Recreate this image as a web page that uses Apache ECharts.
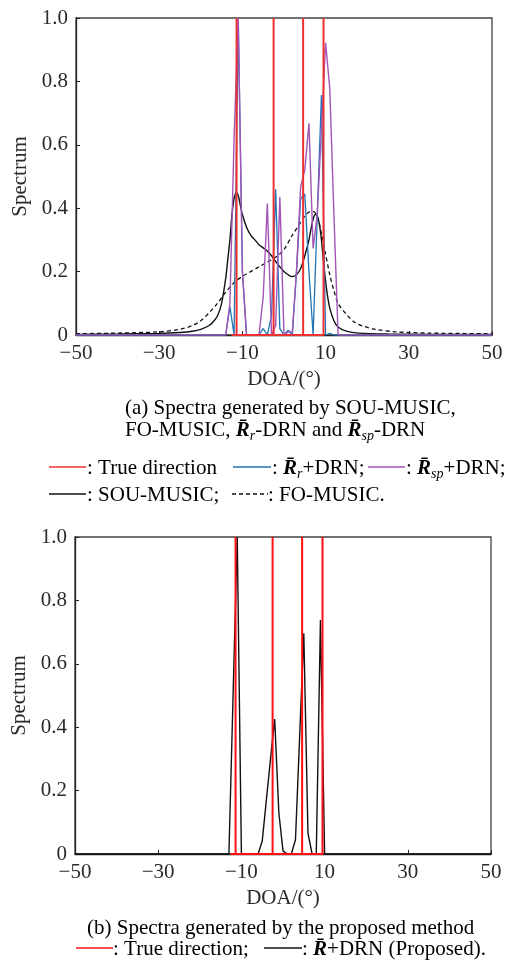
<!DOCTYPE html>
<html>
<head>
<meta charset="utf-8">
<script src="https://cdn.jsdelivr.net/npm/echarts@6/dist/echarts.min.js"></script>
<style>
  html, body { margin: 0; padding: 0; background: #fff; }
  #chart { width: 526px; height: 969px; }
</style>
</head>
<body>
<div id="chart"></div>
<script>
// true source directions (deg)
var trueDirs = [-11.4, -2.5, 4.6, 9.5];

// DRN output grid (deg); outside -15..13 the spectra are zero
var drnDoa = [-50, -15, -14, -13, -12, -11, -10, -9, -8, -7, -6, -5, -4, -3, -2, -1, 0,
              1, 2, 3, 4, 5, 6, 7, 8, 9, 10, 11, 12, 13, 50];
// R_r + DRN (blue)
var rrDrn = [0, 0, 0, 0.09, 0, 1.0, 0.2, 0, 0, 0, 0, 0.02, 0, 0.06, 0.46, 0.02, 0,
             0.015, 0, 0.2, 0.43, 0.445, 0.2, 0, 0.38, 0.757, 0, 0.005, 0, 0, 0];
// R_sp + DRN (purple)
var rspDrn = [0, 0, 0, 0.1, 0.62, 1.0, 0.2, 0, 0, 0, 0, 0.12, 0.415, 0, 0.03, 0.435, 0,
              0.01, 0.01, 0.2, 0.468, 0.52, 0.668, 0.273, 0.38, 0.65, 0.922, 0.778, 0.38, 0, 0];
// R + DRN (proposed, bottom panel)
var propDrn = [0, 0, 0, 0, 0.5, 1.0, 0, 0, 0, 0, 0, 0.04, 0.17, 0.3, 0.426, 0.13, 0.01,
               0, 0, 0.045, 0.37, 0.696, 0.066, 0, 0, 0.738, 0, 0, 0, 0, 0];

// SOU-MUSIC
var souDoa = [-50, -40, -30, -25, -22, -20, -18, -17, -16, -15, -14, -13.5, -13, -12.5, -12,
              -11.5, -11, -10.5, -10, -9, -8, -7, -6, -5, -4, -3, -2, -1, 0, 1, 2, 3, 4, 5, 6,
              6.5, 7, 7.5, 8, 8.5, 9, 9.5, 10, 10.5, 11, 12, 13, 15, 18, 25, 35, 50];
var souVal = [0.002, 0.003, 0.005, 0.008, 0.012, 0.018, 0.03, 0.042, 0.06, 0.1, 0.18, 0.24, 0.3,
              0.38, 0.43, 0.45, 0.44, 0.41, 0.38, 0.34, 0.315, 0.3, 0.285, 0.275, 0.265, 0.25,
              0.232, 0.215, 0.2, 0.19, 0.184, 0.19, 0.21, 0.25, 0.3, 0.335, 0.365, 0.38, 0.375,
              0.35, 0.3, 0.23, 0.17, 0.12, 0.085, 0.045, 0.025, 0.012, 0.006, 0.003, 0.002, 0.002];

// FO-MUSIC
var foDoa = [-50, -40, -30, -25, -22, -20, -18, -16, -14, -12, -10, -8, -6, -4, -2, 0, 2, 4, 5,
             6, 7, 8, 9, 10, 11, 12, 13, 15, 17, 19, 22, 27, 35, 50];
var foVal = [0.004, 0.006, 0.01, 0.018, 0.03, 0.045, 0.07, 0.1, 0.135, 0.165, 0.185, 0.2, 0.215,
             0.23, 0.245, 0.27, 0.315, 0.355, 0.375, 0.388, 0.39, 0.375, 0.32, 0.255, 0.19, 0.14,
             0.1, 0.065, 0.04, 0.028, 0.018, 0.01, 0.006, 0.004];

var FONT = '"Liberation Serif", "Times New Roman", serif';
var FS = 21;
var TXT = '#2a2a2a';

function pairs(xs, ys) {
    return xs.map(function (x, i) { return [x, ys[i]]; });
}
// spikes of height 1 at the true directions, joined along zero
function truthLine(dirs) {
    var out = [[dirs[0] - 1.2, 0]];
    dirs.forEach(function (d) {
        out.push([d, 0], [d, 1], [d, 0]);
    });
    return out;
}

function xAx(gi) {
    return {
        type: 'value', gridIndex: gi, min: -50, max: 50, interval: 20,
        name: 'DOA/(°)', nameLocation: 'middle', nameGap: 34,
        nameTextStyle: {fontFamily: FONT, fontSize: FS, color: TXT},
        axisLine: {show: true, onZero: false, lineStyle: {color: '#222', width: 1.3}},
        axisTick: {show: true, inside: true, length: 4, lineStyle: {color: '#222'}},
        axisLabel: {
            fontFamily: FONT, fontSize: FS, color: TXT, margin: 8,
            formatter: function (v) { return String(v).replace('-', '\u2212'); }
        },
        splitLine: {show: false}
    };
}
function yAx(gi) {
    return {
        type: 'value', gridIndex: gi, min: 0, max: 1, interval: 0.2,
        name: 'Spectrum', nameLocation: 'middle', nameGap: 40,
        nameTextStyle: {fontFamily: FONT, fontSize: FS, color: TXT},
        axisLine: {show: true, onZero: false, lineStyle: {color: '#222', width: 1.3}},
        axisTick: {show: true, inside: true, length: 4, lineStyle: {color: '#222'}},
        axisLabel: {
            fontFamily: FONT, fontSize: FS, color: TXT, margin: 8,
            formatter: function (v) { return v === 0 ? '0' : v.toFixed(1); }
        },
        splitLine: {show: false}
    };
}
function ln(name, data, gi, color, width, extra) {
    var s = {
        name: name, type: 'line', xAxisIndex: gi, yAxisIndex: gi, data: data,
        showSymbol: false, symbol: 'none', silent: true,
        lineStyle: {color: color, width: width}
    };
    for (var k in extra) s[k] = extra[k];
    return s;
}

// rich text pieces for captions / legends
var rich = {
    t: {fontFamily: FONT, fontSize: FS, color: TXT, lineHeight: 26, verticalAlign: 'middle'},
    R: {fontFamily: FONT, fontSize: FS, fontWeight: 'bold', fontStyle: 'italic', color: TXT,
        lineHeight: 26, verticalAlign: 'middle'},
    s: {fontFamily: FONT, fontSize: 14, fontStyle: 'italic', color: TXT, lineHeight: 14,
        verticalAlign: 'bottom'}
};
function txt(x, y, str) {
    return {type: 'text', left: x, top: y - 9, style: {text: str, rich: rich}, silent: true};
}
function sample(x1, x2, y, color, dash) {
    return {
        type: 'line', silent: true,
        shape: {x1: x1, y1: y, x2: x2, y2: y},
        style: {stroke: color, lineWidth: 1.3, lineDash: dash || null}
    };
}

var chart = echarts.init(document.getElementById('chart'));
chart.setOption({
    animation: false,
    backgroundColor: '#fff',
    grid: [
        {left: 76, top: 18, width: 416, height: 317, show: true, borderColor: '#444', borderWidth: 1.3},
        {left: 75, top: 537, width: 416, height: 317, show: true, borderColor: '#444', borderWidth: 1.3}
    ],
    xAxis: [xAx(0), xAx(1)],
    yAxis: [yAx(0), yAx(1)],
    series: [
        ln('SOU-MUSIC', pairs(souDoa, souVal), 0, '#111', 1.4, {smooth: 0.3}),
        ln('FO-MUSIC', pairs(foDoa, foVal), 0, '#111', 1.3, {smooth: 0.3, lineStyle: {color: '#111', width: 1.3, type: [4, 3]}}),
        ln('Rr+DRN', pairs(drnDoa, rrDrn), 0, '#1f74b8', 1.3),
        ln('Rsp+DRN', pairs(drnDoa, rspDrn), 0, '#a255b6', 1.4),
        ln('True direction', truthLine(trueDirs), 0, '#ee3030', 2),
        ln('R+DRN (Proposed)', pairs(drnDoa, propDrn), 1, '#111', 1.4),
        ln('True direction', truthLine(trueDirs), 1, '#ff1010', 2)
    ],
    graphic: [
        txt(125, 407, '{t|(a) Spectra generated by SOU-MUSIC,}'),
        txt(125, 429, '{t|FO-MUSIC, }{R|R\u0304}{s|r}{t|-DRN and }{R|R\u0304}{s|sp}{t|-DRN}'),
        sample(49, 86, 467, '#ee3030'),
        txt(87, 467, '{t|: True direction}'),
        sample(233, 271, 467, '#1f74b8'),
        txt(272, 467, '{t|: }{R|R\u0304}{s|r}{t|+DRN;}'),
        sample(368, 405, 467, '#a255b6'),
        txt(406, 467, '{t|: }{R|R\u0304}{s|sp}{t|+DRN;}'),
        sample(49, 86, 494, '#111'),
        txt(87, 494, '{t|: SOU-MUSIC;}'),
        sample(232, 268, 494, '#111', [4, 3]),
        txt(268, 494, '{t|: FO-MUSIC.}'),
        txt(87, 927, '{t|(b) Spectra generated by the proposed method}'),
        sample(76, 113, 948, '#ff1010'),
        txt(113, 948, '{t|: True direction;}'),
        sample(264, 302, 948, '#111'),
        txt(302, 948, '{t|: }{R|R\u0304}{t|+DRN (Proposed).}')
    ]
});
</script>
</body>
</html>
